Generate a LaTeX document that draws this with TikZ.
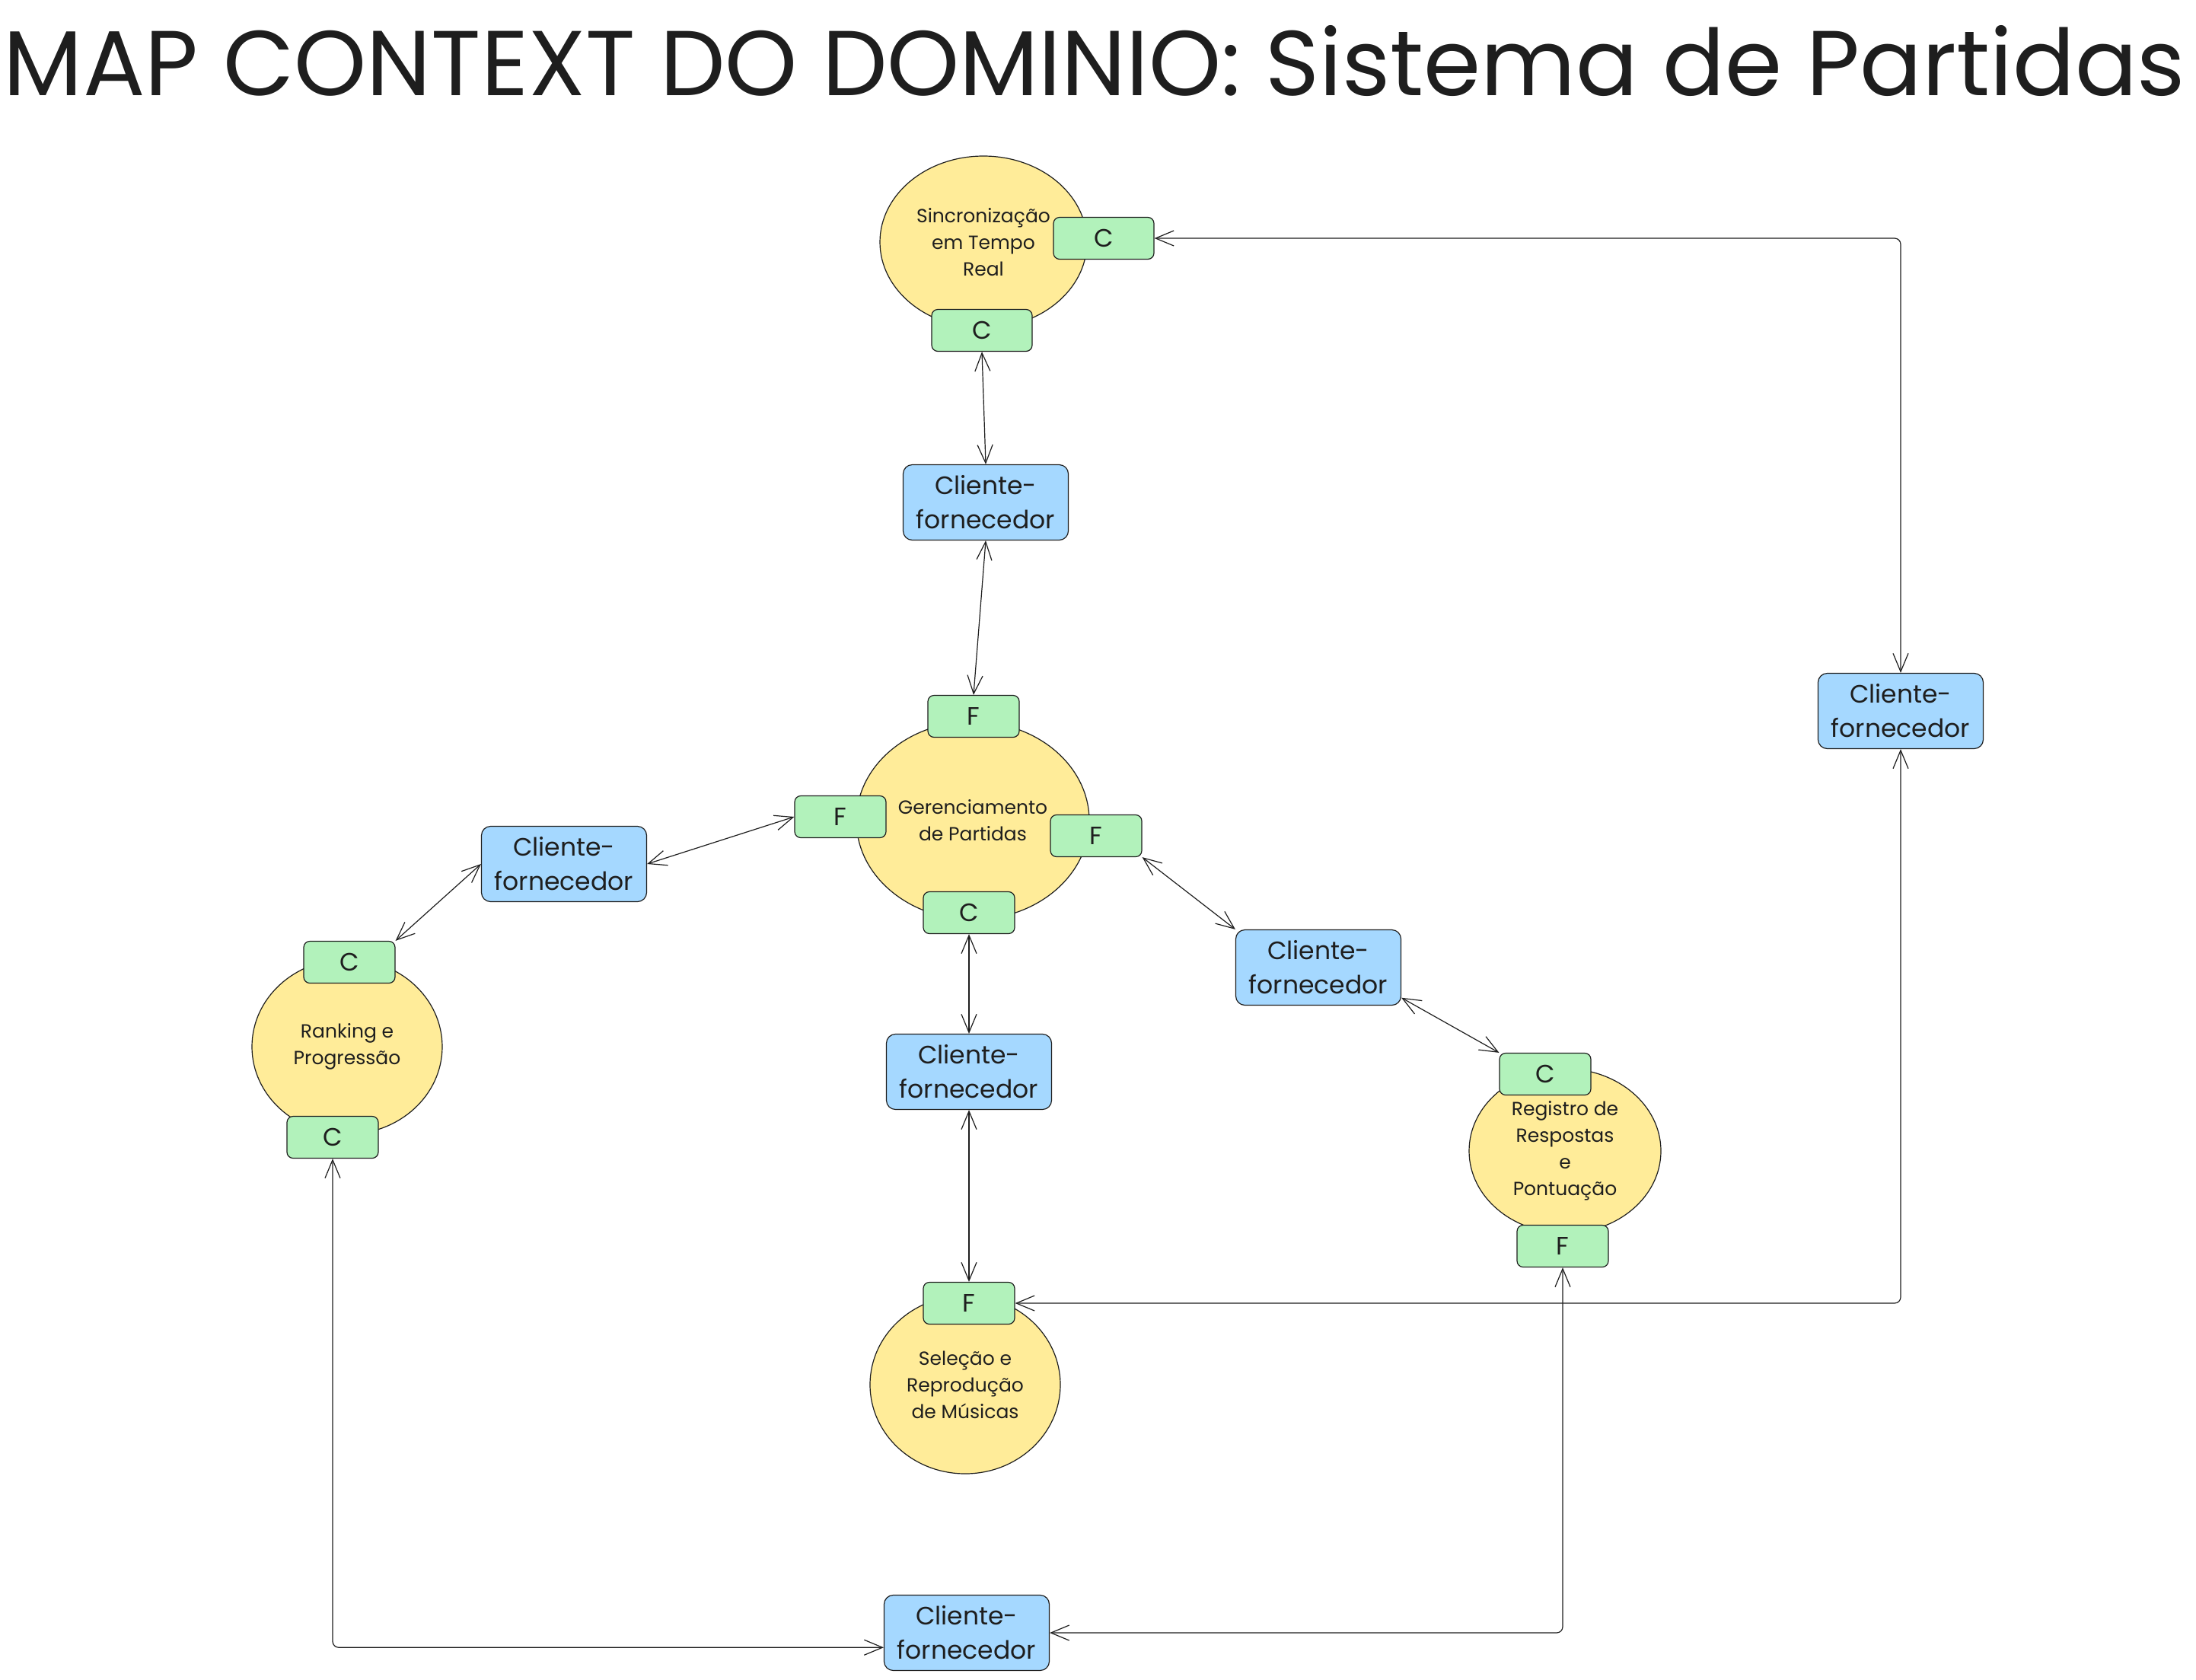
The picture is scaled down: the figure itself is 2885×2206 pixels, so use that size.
\documentclass[tikz,border=0pt]{standalone}
\usepackage{fontspec}
\setmainfont{Poppins}
\usetikzlibrary{shapes.geometric,arrows.meta}
\definecolor{ylw}{HTML}{FFEC99}
\definecolor{grn}{HTML}{B2F2BB}
\definecolor{blu}{HTML}{A5D8FF}
\definecolor{ink}{HTML}{1E1E1E}
\begin{document}
\begin{tikzpicture}[x=0.5pt,y=-0.5pt,
  ctx/.style={ellipse, draw=ink, fill=ylw, line width=0.6pt, inner sep=0pt, align=center, text=ink, font=\fontsize{12.5}{17.5}\selectfont},
  port/.style={rectangle, rounded corners=4pt, draw=ink, fill=grn, line width=0.6pt, minimum width=60pt, minimum height=27.5pt, inner sep=0pt, text=ink, font=\fontsize{16.5}{20}\selectfont},
  rel/.style={rectangle, rounded corners=6pt, draw=ink, fill=blu, line width=0.6pt, minimum width=108.5pt, minimum height=49.5pt, align=center, inner sep=0pt, text=ink, font=\fontsize{16.5}{22.5}\selectfont},
  conn/.style={draw=ink, line width=0.6pt, rounded corners=4pt, {Straight Barb[length=12pt,width=10pt]}-{Straight Barb[length=12pt,width=10pt]}}
]
\useasboundingbox (0,0) rectangle (2885,2206);
\fill[white] (0,0) rectangle (2885,2206);

\node[text=ink, font=\fontsize{60.5}{64}\selectfont] (title) at (1438,80) {MAP CONTEXT DO DOMINIO: Sistema de Partidas};

% contexts
\node[ctx, minimum width=136pt, minimum height=113pt] (sinc) at (1292,318) {Sincronização\\em Tempo\\Real};
\node[ctx, minimum width=153pt, minimum height=130pt] (ger) at (1278,1078) {Gerenciamento\\de Partidas};
\node[ctx, minimum width=125pt, minimum height=115pt] (rank) at (456,1375) {Ranking e\\Progressão};
\node[ctx, minimum width=125pt, minimum height=117pt] (sel) at (1268,1819) {Seleção e\\Reprodução\\de Músicas};
\node[ctx, minimum width=126pt, minimum height=108pt] (reg) at (2056,1512) {Registro de\\Respostas\\e\\Pontuação};

% ports
\node[port, minimum width=66pt] (sincR) at (1450,313) {C};
\node[port, minimum width=66pt] (sincB) at (1290,434) {C};
\node[port] (gerT) at (1279,941) {F};
\node[port] (gerL) at (1104,1073) {F};
\node[port] (gerR) at (1440,1098) {F};
\node[port] (gerB) at (1273,1199) {C};
\node[port] (rkT) at (459,1264) {C};
\node[port] (rkB) at (437,1494) {C};
\node[port] (selT) at (1273,1712) {F};
\node[port] (regT) at (2030,1411) {C};
\node[port] (regB) at (2053,1637) {F};

% relationships
\node[rel] (cf1) at (1295,660) {Cliente-\\fornecedor};
\node[rel] (cfL) at (741,1135) {Cliente-\\fornecedor};
\node[rel] (cfC) at (1273,1408) {Cliente-\\fornecedor};
\node[rel] (cfR) at (1732,1271) {Cliente-\\fornecedor};
\node[rel] (cfFR) at (2497,934) {Cliente-\\fornecedor};
\node[rel] (cfB) at (1270,2145) {Cliente-\\fornecedor};

% connectors
\draw[conn] (sincB.south) -- (cf1.north);
\draw[conn] (cf1.south) -- (gerT.north);
\draw[conn] (sincR.east) -| (cfFR.north);
\draw[conn] (cfFR.south) |- (selT.east);
\draw[conn] (cfL.east) -- (gerL.west);
\draw[conn] (cfL.west) -- (rkT.north east);
\draw[conn] (gerR.south east) -- (cfR.north west);
\draw[conn] (cfR.-20) -- (regT.north west);
\draw[conn] (gerB.south) -- (cfC.north);
\draw[conn] (cfC.south) -- (selT.north);
\draw[conn] (rkB.south) |- (cfB.190);
\draw[conn] (regB.south) |- (cfB.east);
\end{tikzpicture}
\end{document}
